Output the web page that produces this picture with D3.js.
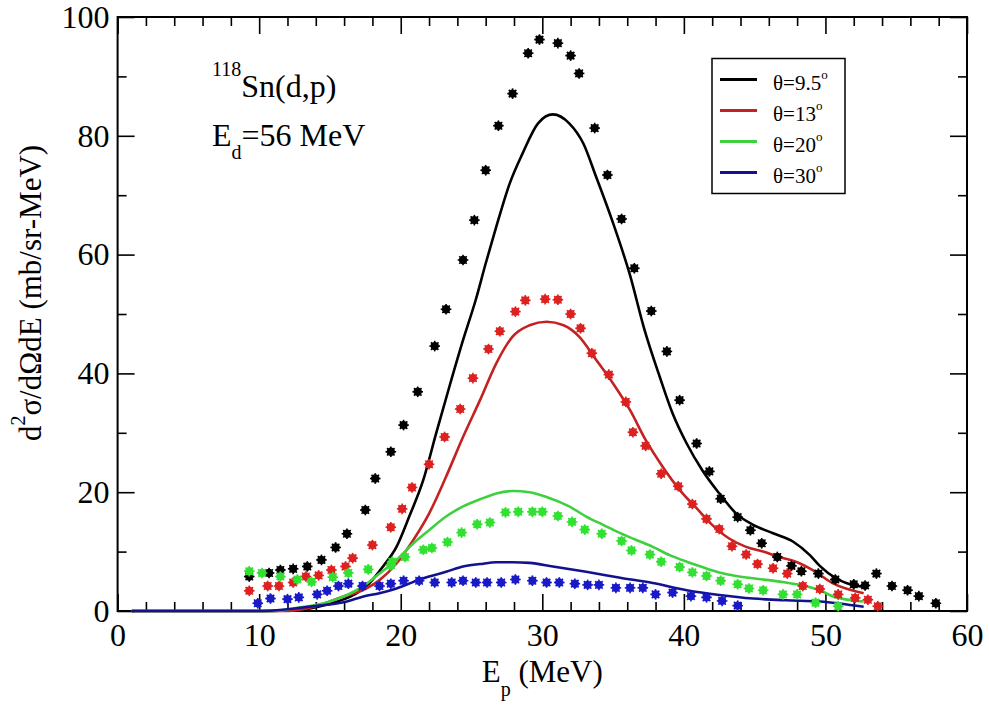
<!DOCTYPE html>
<html>
<head>
<meta charset="utf-8">
<script src="https://cdn.jsdelivr.net/npm/d3@7"></script>
<style>
  body { margin: 0; background: #fff; }
</style>
</head>
<body>
<svg id="chart" width="989" height="711"></svg>
<script>
const expE95 = [9.3,10.7,11.5,12.4,13.4,14.4,15.4,16.2,17.5,18.2,19.3,20.2,21.2,22.4,23.2,24.4,25.2,26.0,26.9,27.9,29.0,29.8,31.1,32.0,32.6,33.7,34.6,35.6,36.5,37.7,38.8,39.7,40.9,41.8,42.6,43.8,44.7,45.5,46.6,47.6,48.3,49.5,50.7,52.0,52.8,53.6,54.7,55.8,56.6,57.8];
const expY95 = [5.8,6.4,6.9,7.1,7.5,8.6,10.7,13.0,17.0,22.3,26.8,31.3,36.9,44.6,50.8,59.1,65.8,74.2,81.7,87.1,93.9,96.2,95.6,93.5,90.5,81.3,73.4,66.0,57.7,50.5,43.7,35.5,28.2,23.5,18.9,15.8,13.6,11.4,9.1,7.6,6.7,6.3,5.3,4.5,4.3,6.3,4.2,3.5,2.5,1.3];

const expE13 = [9.3,10.6,11.4,12.4,13.3,14.2,15.1,16.1,16.6,18.0,19.3,20.1,20.8,22.0,23.1,24.2,25.1,26.2,27.0,28.1,28.8,30.2,31.1,32.0,32.7,33.5,34.7,35.9,36.4,37.3,38.4,39.6,40.6,41.6,42.5,43.4,44.4,45.2,46.3,47.3,48.4,49.6,50.9,52.1,53.0,53.7];
const expY13 = [3.4,4.2,4.2,4.8,5.8,6.0,6.9,7.5,8.9,11.1,14.1,17.2,20.8,24.7,29.3,34.0,39.2,44.1,47.1,50.4,52.3,52.5,52.4,50.0,47.6,43.4,39.8,35.2,30.1,27.8,23.1,21.0,18.0,15.5,13.8,10.9,9.5,7.9,7.2,6.3,4.2,3.7,2.8,2.2,1.9,0.8];

const expE20 = [9.3,10.2,11.5,12.7,13.7,15.2,16.3,17.7,19.3,19.4,20.3,21.6,22.2,23.3,24.3,25.4,26.3,27.4,28.3,29.3,30.0,31.1,32.1,33.0,34.2,35.6,36.3,37.6,38.4,39.7,40.6,41.6,42.6,43.8,44.6,45.6,47.0,48.0,49.3,50.9];
const expY20 = [6.7,6.4,5.8,5.3,4.9,5.7,6.4,7.0,7.7,8.3,9.1,10.3,10.6,11.6,13.2,14.6,14.9,16.6,16.7,16.7,16.7,16.0,15.0,13.7,13.0,11.8,10.2,9.5,8.3,7.4,6.5,5.9,5.1,4.5,3.8,3.5,2.8,2.8,1.4,0.8];

const expE30 = [9.9,10.8,12.0,12.8,14.1,14.8,15.6,16.3,17.3,18.5,19.3,20.2,21.3,22.4,23.6,24.4,25.3,26.1,27.1,28.1,29.3,30.3,31.2,32.3,33.2,34.0,35.2,36.2,37.1,38.0,39.2,40.5,41.6,42.7,43.8];
const expY30 = [1.3,2.1,2.0,2.3,2.8,3.4,4.2,4.6,4.2,4.2,4.6,5.1,5.1,4.8,4.8,5.1,4.8,4.8,4.8,5.3,5.1,4.8,4.8,4.6,4.4,4.4,3.9,3.9,3.9,2.8,3.1,2.5,2.3,1.7,0.9];

// calculated curves
const thE95 = [1,10,12,13.5,15,16,16.9,17.8,18.75,19.7,20.6,21.6,22.5,23.5,24.4,25.3,26.0,26.75,27.7,28.6,29.7,30.75,31.9,32.9,33.8,35.0,36.2,37.2,38.3,39.2,40.2,41.3,42.5,43.7,44.9,46.3,47.7,48.9,49.6,50.75,51.9,52.8];
const thY95 = [0,0,0.1,0.4,1.2,2.0,3.0,4.7,7.5,10.8,15.9,22.1,29.9,38.3,45.6,52.4,58.5,64.7,72.0,77.0,82.1,83.6,82.1,78.7,73.1,65.3,56.5,47.5,39.4,33.3,28.2,23.7,19.8,16.4,14.5,13.1,11.7,9.4,7.6,5.5,4.4,4.0];

const thE13 = [1,12,14,15.9,17.3,18.5,19.7,20.9,22.0,23.2,24.4,25.6,26.75,27.9,29.1,30.3,31.5,32.6,33.8,35.0,36.2,37.3,38.5,39.7,40.9,42.0,43.2,44.4,45.6,46.7,47.9,49.1,50.5,52.7];
const thY13 = [0,0,0.8,2.4,3.5,5.2,8.0,12.0,16.4,22.6,29.3,35.5,41.7,46.2,48.1,48.7,48.1,46.2,42.3,38.3,33.8,28.8,24.3,20.4,17.3,14.5,12.2,10.8,10.0,9.1,8.3,6.9,4.7,3.0];

const thE20 = [1,11,12.6,15.0,17.3,18.5,19.7,20.9,22.0,23.2,24.4,25.6,26.75,27.9,29.1,30.3,31.9,33.1,34.3,35.5,36.6,37.8,39.0,40.2,41.3,42.5,43.7,44.9,46.0,47.2,48.4,49.6,50.5,52.7];
const thY20 = [0,0,0.5,1.6,4.1,6.3,8.6,11.4,13.6,15.9,17.6,18.8,19.8,20.2,20.0,19.2,17.6,15.9,14.5,13.1,12.0,10.8,9.4,8.3,7.4,6.5,5.9,5.5,5.2,4.8,4.3,3.5,2.5,1.6];

const thE30 = [1,10.3,13.8,16.2,17.3,18.5,19.7,20.9,22.0,23.2,24.4,25.6,26.75,27.9,29.1,30.75,33.1,35.5,37.8,40.2,42.5,44.9,47.2,49.6,52.7];
const thY30 = [0,0,0.8,1.6,2.4,3.0,3.8,4.9,5.8,6.6,7.5,7.9,8.2,8.2,8.1,7.5,6.6,5.6,4.7,3.5,2.7,2.1,1.8,1.6,0.7];

const angles = ["9.5", "13", "20", "30"];
const xTicks = [0, 10, 20, 30, 40, 50, 60];
const yTicks = [0, 20, 40, 60, 80, 100];

const series = [
  { angle: angles[0], line: "#000000", dot: "#000000", thE: thE95, thY: thY95, exE: expE95, exY: expY95 },
  { angle: angles[1], line: "#c42222", dot: "#dd2222", thE: thE13, thY: thY13, exE: expE13, exY: expY13 },
  { angle: angles[2], line: "#3fd03f", dot: "#33e033", thE: thE20, thY: thY20, exE: expE20, exY: expY20 },
  { angle: angles[3], line: "#12128e", dot: "#1a1ac8", thE: thE30, thY: thY30, exE: expE30, exY: expY30 }
];

const serifFont = "Liberation Serif, Tinos, Times New Roman, Times, Nimbus Roman, Nimbus Roman No9 L, FreeSerif, DejaVu Serif, Noto Serif, serif";

const svg = d3.select("#chart").style("font-family", serifFont);
const plotL = 117.6, plotR = 967, plotT = 17, plotB = 611;

const x = d3.scaleLinear().domain([0, 60]).range([plotL, plotR]);
const y = d3.scaleLinear().domain([0, 100]).range([plotB, plotT]);

const xMinor = d3.range(0, 61, 2).filter(v => v % 10 !== 0);
const yMinor = d3.range(10, 100, 20);

function styleAxis(g) {
  g.attr("font-family", null);
  g.select(".domain").remove();
  g.selectAll(".tick line").attr("stroke", "#000").attr("stroke-width", 1.6);
  g.selectAll(".tick text")
    .attr("fill", "#000")
    .attr("font-size", "32px");
}

// major ticks with labels
svg.append("g").attr("transform", `translate(0,${plotB})`)
  .call(d3.axisBottom(x).tickValues(xTicks).tickSizeInner(-17).tickSizeOuter(0).tickPadding(12))
  .call(styleAxis);
svg.append("g").attr("transform", `translate(${plotL},0)`)
  .call(d3.axisLeft(y).tickValues(yTicks).tickSizeInner(-17).tickSizeOuter(0).tickPadding(8))
  .call(styleAxis);

// mirrored ticks, no labels
svg.append("g").attr("transform", `translate(0,${plotT})`)
  .call(d3.axisTop(x).tickValues(xTicks).tickFormat("").tickSizeInner(-17).tickSizeOuter(0))
  .call(styleAxis);
svg.append("g").attr("transform", `translate(${plotR},0)`)
  .call(d3.axisRight(y).tickValues(yTicks).tickFormat("").tickSizeInner(-17).tickSizeOuter(0))
  .call(styleAxis);

// minor ticks
[[d3.axisBottom(x), plotB, xMinor, "x"], [d3.axisTop(x), plotT, xMinor, "x"],
 [d3.axisLeft(y), plotL, yMinor, "y"], [d3.axisRight(y), plotR, yMinor, "y"]].forEach(([ax, pos, vals, dir]) => {
  svg.append("g")
    .attr("transform", dir === "x" ? `translate(0,${pos})` : `translate(${pos},0)`)
    .call(ax.tickValues(vals).tickFormat("").tickSizeInner(-9).tickSizeOuter(0))
    .call(styleAxis);
});

// frame
svg.append("rect")
  .attr("x", plotL).attr("y", plotT)
  .attr("width", plotR - plotL).attr("height", plotB - plotT)
  .attr("fill", "none").attr("stroke", "#000").attr("stroke-width", 2);

// theory curves
const line = d3.line()
  .x(d => x(d[0]))
  .y(d => y(d[1]))
  .curve(d3.curveMonotoneX);

series.forEach(s => {
  svg.append("path")
    .datum(d3.zip(s.thE, s.thY))
    .attr("d", line)
    .attr("fill", "none")
    .attr("stroke", s.line)
    .attr("stroke-width", 2.6);
});

// data points: filled dot with little spikes
function star(g, color) {
  g.append("circle").attr("r", 4.2).attr("fill", color);
  [0, 45, 90, 135].forEach(a => {
    g.append("line")
      .attr("x1", -5.3).attr("x2", 5.3)
      .attr("transform", `rotate(${a})`)
      .attr("stroke", color)
      .attr("stroke-width", 1.6);
  });
}

series.forEach(s => {
  svg.append("g").selectAll("g")
    .data(d3.zip(s.exE, s.exY))
    .enter()
    .append("g")
    .attr("transform", d => `translate(${x(d[0])},${y(d[1])})`)
    .each(function() { star(d3.select(this), s.dot); });
});

// annotation
const ann1 = svg.append("text").attr("x", 212).attr("y", 97).attr("fill", "#000");
ann1.append("tspan").attr("font-size", "20px").attr("dy", -21).text("118");
ann1.append("tspan").attr("font-size", "32px").attr("dy", 21).text("Sn(d,p)");

const ann2 = svg.append("text").attr("x", 212).attr("y", 146).attr("fill", "#000");
ann2.append("tspan").attr("font-size", "32px").text("E");
ann2.append("tspan").attr("font-size", "20px").attr("dy", 13).text("d");
ann2.append("tspan").attr("font-size", "32px").attr("dy", -13).text("=56 MeV");

// axis titles
const xt = svg.append("text")
  .attr("x", x(30)).attr("y", 682)
  .attr("text-anchor", "middle").attr("fill", "#000");
xt.append("tspan").attr("font-size", "31px").text("E");
xt.append("tspan").attr("font-size", "20px").attr("dy", 14).text("p");
xt.append("tspan").attr("font-size", "31px").attr("dy", -14).text(" (MeV)");

const yt = svg.append("text")
  .attr("transform", "translate(41,293) rotate(-90)")
  .attr("text-anchor", "middle").attr("fill", "#000");
yt.append("tspan").attr("font-size", "31px").text("d");
yt.append("tspan").attr("font-size", "20px").attr("dy", -16).text("2");
yt.append("tspan").attr("font-size", "31px").attr("dy", 16).text("σ/dΩdE (mb/sr-MeV)");

// legend
const legend = svg.append("g");
legend.append("rect")
  .attr("x", 712).attr("y", 58.5)
  .attr("width", 133).attr("height", 135)
  .attr("fill", "#fff").attr("stroke", "#000").attr("stroke-width", 1.5);

const legendY = d3.scalePoint().domain(angles).range([79.5, 172.5]);

series.forEach(s => {
  const ry = legendY(s.angle);
  legend.append("line")
    .attr("x1", 720).attr("x2", 757)
    .attr("y1", ry).attr("y2", ry)
    .attr("stroke", s.line).attr("stroke-width", 3);
  const t = legend.append("text").attr("x", 773).attr("y", ry + 10).attr("fill", "#000");
  t.append("tspan").attr("font-size", "21px").text(`θ=${s.angle}`);
  t.append("tspan").attr("font-size", "13px").attr("dy", -11).text("o");
});
</script>
</body>
</html>
